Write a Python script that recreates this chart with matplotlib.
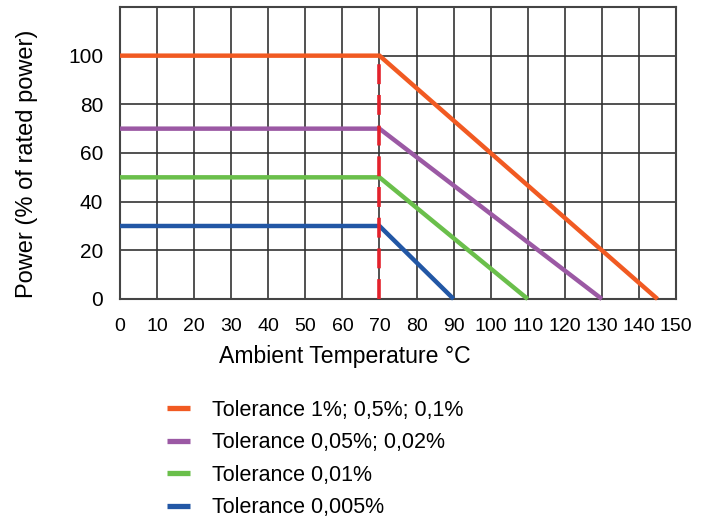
import numpy as np
import matplotlib
matplotlib.use("Agg")
import matplotlib.pyplot as plt

plt.rcParams['font.family'] = ['Liberation Sans', 'DejaVu Sans']

# derating curves: flat up to the knee, then linear down to zero
labels = ["Tolerance 1%; 0,5%; 0,1%",
          "Tolerance 0,05%; 0,02%",
          "Tolerance 0,01%",
          "Tolerance 0,005%"]
levels = [100, 70, 50, 30]          # % of rated power
knee_temp = 70                      # deg C
zero_temp = [145, 130, 110, 90]     # deg C where power reaches 0
colors = ["#f15a22", "#9b59a4", "#6abf4b", "#2257a5"]

x_ticks = np.arange(0, 151, 10)
y_ticks = np.arange(0, 101, 20)

fig = plt.figure(figsize=(7.03, 5.18), dpi=100)
ax = fig.add_axes([0.1707, 0.4228, 0.7909, 0.5637])

ax.set_xlim(0, 150)
ax.set_ylim(0, 120)
ax.set_xticks(x_ticks)
ax.set_yticks(np.arange(0, 121, 20))
ax.set_yticklabels([str(v) if v <= 100 else "" for v in np.arange(0, 121, 20)])
ax.tick_params(length=0, labelsize=15, colors="black")
ax.tick_params(axis="y", pad=12)
ax.tick_params(axis="x", pad=14, labelsize=14)

ax.grid(True, color="#333333", linewidth=1.2)
ax.set_axisbelow(True)
for s in ax.spines.values():
    s.set_color("#444444")
    s.set_linewidth(1.5)

for lvl, zt, c, lab in zip(levels, zero_temp, colors, labels):
    ax.plot([0, knee_temp, zt], [lvl, lvl, 0], color=c, linewidth=3.2,
            solid_capstyle="butt", solid_joinstyle="miter", label=lab, zorder=3,
            clip_on=False)

# knee marker
ax.plot([knee_temp, knee_temp], [0, levels[0]], color="#e3212b", linewidth=2.6,
        dashes=(5.5, 3), zorder=4)

ax.set_ylabel("Power (% of rated power)", fontsize=17)
ax.yaxis.set_label_coords(-0.148, 0.463)
fig.text(345 / 703, 1 - 356 / 518, "Ambient Temperature °C", fontsize=16.6,
         ha="center", va="center")

h, l = ax.get_legend_handles_labels()
leg = fig.legend(h, l, loc="upper left", bbox_to_anchor=(167 / 703, 1 - 400 / 518),
                 frameon=False, fontsize=15.5, handlelength=1.05, handletextpad=1.05,
                 labelspacing=0.53, borderpad=0, borderaxespad=0)
for line in leg.get_lines():
    line.set_linewidth(3.8)

fig.savefig("out.png", dpi=100)
